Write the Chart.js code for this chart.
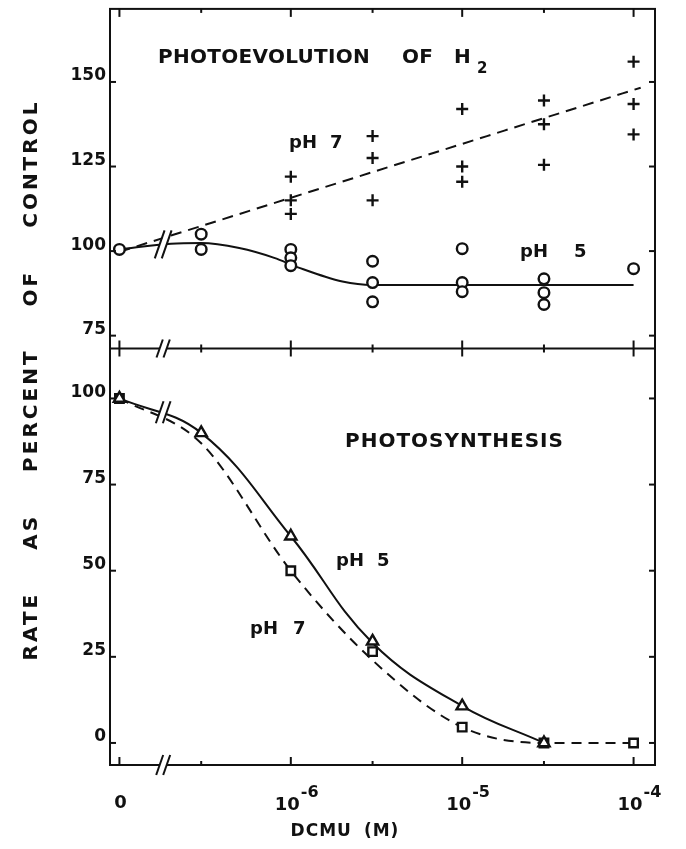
<!DOCTYPE html>
<html>
<head>
<meta charset="utf-8">
<script src="https://cdn.jsdelivr.net/npm/chart.js@4.4.1/dist/chart.umd.min.js"></script>
<style>
  html, body { margin: 0; background: #fff; }
  canvas { display: block; }
</style>
</head>
<body>
<canvas id="dcmu" width="686" height="849"></canvas>
<script>
(() => {
  'use strict';

  // DCMU concentrations in M; 0 is the untreated control, shown left of the axis break
  const X_TICKS = [0, 3e-7, 1e-6, 3e-6, 1e-5, 3e-5, 1e-4];
  const X_MAJOR = [0, 1e-6, 1e-5, 1e-4];
  const X_LABELS = [['0', ''], ['10', '-6'], ['10', '-5'], ['10', '-4']];
  const TOP_Y_TICKS = [75, 100, 125, 150];
  const BOT_Y_TICKS = [0, 25, 50, 75, 100];

  // photoevolution of H2, percent of control
  const H2_PH7_CONC = [1e-6, 1e-6, 1e-6, 3e-6, 3e-6, 3e-6, 1e-5, 1e-5, 1e-5, 3e-5, 3e-5, 3e-5, 1e-4, 1e-4, 1e-4];
  const H2_PH7_RATE = [122, 115, 111, 134, 127.5, 115, 142, 125, 120.5, 144.5, 137.5, 125.5, 156, 143.5, 134.5];
  const H2_PH5_CONC = [0, 3e-7, 3e-7, 1e-6, 1e-6, 1e-6, 3e-6, 3e-6, 3e-6, 1e-5, 1e-5, 1e-5, 3e-5, 3e-5, 3e-5, 1e-4];
  const H2_PH5_RATE = [100.5, 105, 100.5, 100.5, 98, 95.7, 97, 90.7, 85, 100.7, 90.7, 88, 91.8, 87.7, 84.2, 94.8];
  const H2_PH7_FIT_CONC = [0, 1.1e-4];
  const H2_PH7_FIT_RATE = [99.8, 148.3];
  const H2_PH5_FIT_CONC = [0, 2e-7, 3e-7, 5e-7, 8e-7, 1.1e-6, 2e-6, 3e-6, 1e-4];
  const H2_PH5_FIT_RATE = [100.5, 102.2, 102.4, 100.9, 98, 95.2, 91, 90, 90];

  // photosynthesis, percent of control
  const PS_PH5_CONC = [0, 3e-7, 1e-6, 3e-6, 1e-5, 3e-5];
  const PS_PH5_RATE = [100, 90, 60, 29.5, 10.7, 0];
  const PS_PH7_CONC = [0, 1e-6, 3e-6, 1e-5, 3e-5, 1e-4];
  const PS_PH7_RATE = [100, 50, 26.5, 4.6, 0, 0];
  const PS_PH5_FIT_CONC = [0, 3e-7, 1e-6, 3e-6, 1e-5, 3e-5];
  const PS_PH5_FIT_RATE = [100, 90, 60, 29, 10.7, 0];
  const PS_PH7_FIT_CONC = [0, 3e-7, 1e-6, 3e-6, 1e-5, 3e-5, 1e-4];
  const PS_PH7_FIT_RATE = [100, 87, 50, 24, 4.6, 0, 0];

  const BREAK_CONC = 1.8e-7;
  const H2_BREAK_RATE = 102;
  const PS_BREAK_RATE = 96;

  const INK = '#111';
  const FONT = '"DejaVu Sans", sans-serif';
  const ZERO_AT = -7;
  const xPos = c => c === 0 ? ZERO_AT : Math.log10(c);
  const pts = (conc, vals) => conc.map((c, i) => ({ x: xPos(c), y: vals[i] }));

  const marks = (data, yAxisID, pointStyle, radius) => ({
    data, yAxisID, pointStyle, pointRadius: radius, pointHoverRadius: radius,
    showLine: false, borderColor: INK, backgroundColor: '#fff', pointBorderWidth: 2.4
  });
  const fit = (data, yAxisID, dash, smooth) => ({
    data, yAxisID, pointRadius: 0, borderColor: INK, borderWidth: 2, borderDash: dash, fill: false,
    ...(smooth ? { tension: 0.4 } : { cubicInterpolationMode: 'monotone' })
  });

  function drawBreak(ctx, cx, cy, h) {
    const run = h * 0.35, gap = 7;
    ctx.save();
    ctx.fillStyle = '#fff';
    ctx.beginPath();
    ctx.moveTo(cx - gap / 2 - run / 2, cy + h / 2 - 3);
    ctx.lineTo(cx - gap / 2 + run / 2, cy - h / 2 + 3);
    ctx.lineTo(cx + gap / 2 + run / 2, cy - h / 2 + 3);
    ctx.lineTo(cx + gap / 2 - run / 2, cy + h / 2 - 3);
    ctx.closePath(); ctx.fill();
    ctx.strokeStyle = INK; ctx.lineWidth = 2;
    [-gap / 2, gap / 2].forEach(o => {
      ctx.beginPath();
      ctx.moveTo(cx + o - run / 2, cy + h / 2);
      ctx.lineTo(cx + o + run / 2, cy - h / 2);
      ctx.stroke();
    });
    ctx.restore();
  }

  function words(ctx, list, gap) {
    // draws words centred on the origin with a fixed gap between them
    const widths = list.map(w => ctx.measureText(w).width);
    let x = -(widths.reduce((a, b) => a + b, 0) + gap * (list.length - 1)) / 2;
    list.forEach((w, i) => { ctx.fillText(w, x, 0); x += widths[i] + gap; });
  }

  const paper = {
    id: 'paper',
    afterDatasetsDraw(chart) {
      const { ctx, chartArea: a, scales: { x, yTop, yBot } } = chart;
      const mid = yTop.bottom;
      const seg = (x1, y1, x2, y2) => { ctx.beginPath(); ctx.moveTo(x1, y1); ctx.lineTo(x2, y2); ctx.stroke(); };
      ctx.save();
      ctx.strokeStyle = INK; ctx.lineWidth = 2;
      ctx.strokeRect(a.left, a.top, a.right - a.left, a.bottom - a.top);
      seg(a.left, mid, a.right, mid);
      X_TICKS.forEach(c => {
        const px = x.getPixelForValue(xPos(c));
        const len = X_MAJOR.includes(c) ? 8 : 4;
        seg(px, a.top, px, a.top + len);
        seg(px, mid - len, px, mid + len);
        seg(px, a.bottom, px, a.bottom - len);
      });
      [[yTop, TOP_Y_TICKS], [yBot, BOT_Y_TICKS]].forEach(([s, ticks]) => ticks.forEach(v => {
        const py = s.getPixelForValue(v);
        seg(a.left, py, a.left + 6, py);
        seg(a.right, py, a.right - 6, py);
      }));
      const bx = x.getPixelForValue(xPos(BREAK_CONC));
      drawBreak(ctx, bx, mid, 18);
      drawBreak(ctx, bx, a.bottom, 20);
      drawBreak(ctx, bx, yTop.getPixelForValue(H2_BREAK_RATE), 28);
      drawBreak(ctx, bx, yBot.getPixelForValue(PS_BREAK_RATE), 22);
      ctx.restore();
    },
    afterDraw(chart) {
      const { ctx, scales: { x } } = chart;
      ctx.save();
      ctx.fillStyle = INK;
      ctx.textBaseline = 'alphabetic';
      const text = (t, px, py, size, spacing = 0) => {
        ctx.font = `bold ${size}px ${FONT}`;
        ctx.letterSpacing = `${spacing}px`;
        ctx.textAlign = 'left';
        ctx.fillText(t, px, py);
      };

      // x tick labels with raised exponents
      X_MAJOR.forEach((c, i) => {
        const px = x.getPixelForValue(xPos(c));
        const [base, exp] = X_LABELS[i];
        ctx.letterSpacing = '0px';
        ctx.font = `bold 18px ${FONT}`;
        if (!exp) { ctx.textAlign = 'center'; ctx.fillText(base, px + 1, 808); return; }
        ctx.textAlign = 'right'; ctx.fillText(base, px + 9, 810);
        ctx.font = `bold 16px ${FONT}`; ctx.textAlign = 'left'; ctx.fillText(exp, px + 10, 797);
      });

      text('PHOTOEVOLUTION', 158, 63, 20, 0.3);
      text('OF', 402, 63, 20, 0.3);
      text('H', 454, 63, 20);
      text('2', 477, 73, 15);
      text('pH', 289, 148, 18);
      text('7', 330, 148, 18);
      text('pH', 520, 257, 18);
      text('5', 574, 257, 18);
      text('PHOTOSYNTHESIS', 345, 447, 20, 1);
      text('pH', 336, 566, 18);
      text('5', 377, 566, 18);
      text('pH', 250, 634, 18);
      text('7', 293, 634, 18);

      ctx.letterSpacing = '1px';
      ctx.font = `bold 17px ${FONT}`;
      ctx.save(); ctx.translate(345, 836); words(ctx, ['DCMU', '(M)'], 12); ctx.restore();

      ctx.letterSpacing = '3px';
      ctx.font = `bold 20px ${FONT}`;
      ctx.save(); ctx.translate(37, 380); ctx.rotate(-Math.PI / 2);
      words(ctx, ['RATE', 'AS', 'PERCENT', 'OF', 'CONTROL'], 42);
      ctx.restore();
      ctx.restore();
    }
  };

  const yAxis = (min, max, ticks, weight, stackWeight) => ({
    type: 'linear', position: 'left', stack: 'rate', stackWeight, weight, min, max, bounds: 'data',
    grid: { display: false, drawTicks: false }, border: { display: false },
    afterBuildTicks: s => { s.ticks = ticks.map(value => ({ value })); },
    afterFit: s => { s.width = 110; s.paddingTop = 0; s.paddingBottom = 0; },
    ticks: { color: INK, padding: 4, labelOffset: -6, font: { family: FONT, size: 17, weight: 'bold' } }
  });

  new Chart(document.getElementById('dcmu'), {
    type: 'line',
    data: {
      datasets: [
        marks(pts(H2_PH7_CONC, H2_PH7_RATE), 'yTop', 'cross', 6),
        marks(pts(H2_PH5_CONC, H2_PH5_RATE), 'yTop', 'circle', 5.3),
        marks(pts(PS_PH5_CONC, PS_PH5_RATE), 'yBot', 'triangle', 6.5),
        marks(pts(PS_PH7_CONC, PS_PH7_RATE), 'yBot', 'rect', 6),
        fit(pts(H2_PH7_FIT_CONC, H2_PH7_FIT_RATE), 'yTop', [11, 7], false),
        fit(pts(H2_PH5_FIT_CONC, H2_PH5_FIT_RATE), 'yTop', [], false),
        fit(pts(PS_PH5_FIT_CONC, PS_PH5_FIT_RATE), 'yBot', [], true),
        fit(pts(PS_PH7_FIT_CONC, PS_PH7_FIT_RATE), 'yBot', [10, 7], false)
      ]
    },
    options: {
      responsive: false, animation: false, events: [],
      layout: { padding: { top: 8, right: 31, left: 0, bottom: 0 } },
      plugins: { legend: { display: false }, tooltip: { enabled: false } },
      scales: {
        x: {
          type: 'linear', min: -7.055, max: -3.875, bounds: 'data',
          grid: { display: false, drawTicks: false }, border: { display: false },
          ticks: { display: false },
          afterFit: s => { s.height = 84; s.paddingLeft = 0; s.paddingRight = 0; }
        },
        yBot: yAxis(-6.4, 114.5, BOT_Y_TICKS, 0, 417),
        yTop: yAxis(71.2, 171.6, TOP_Y_TICKS, 1, 340)
      }
    },
    plugins: [paper]
  });
})();
</script>
</body>
</html>
